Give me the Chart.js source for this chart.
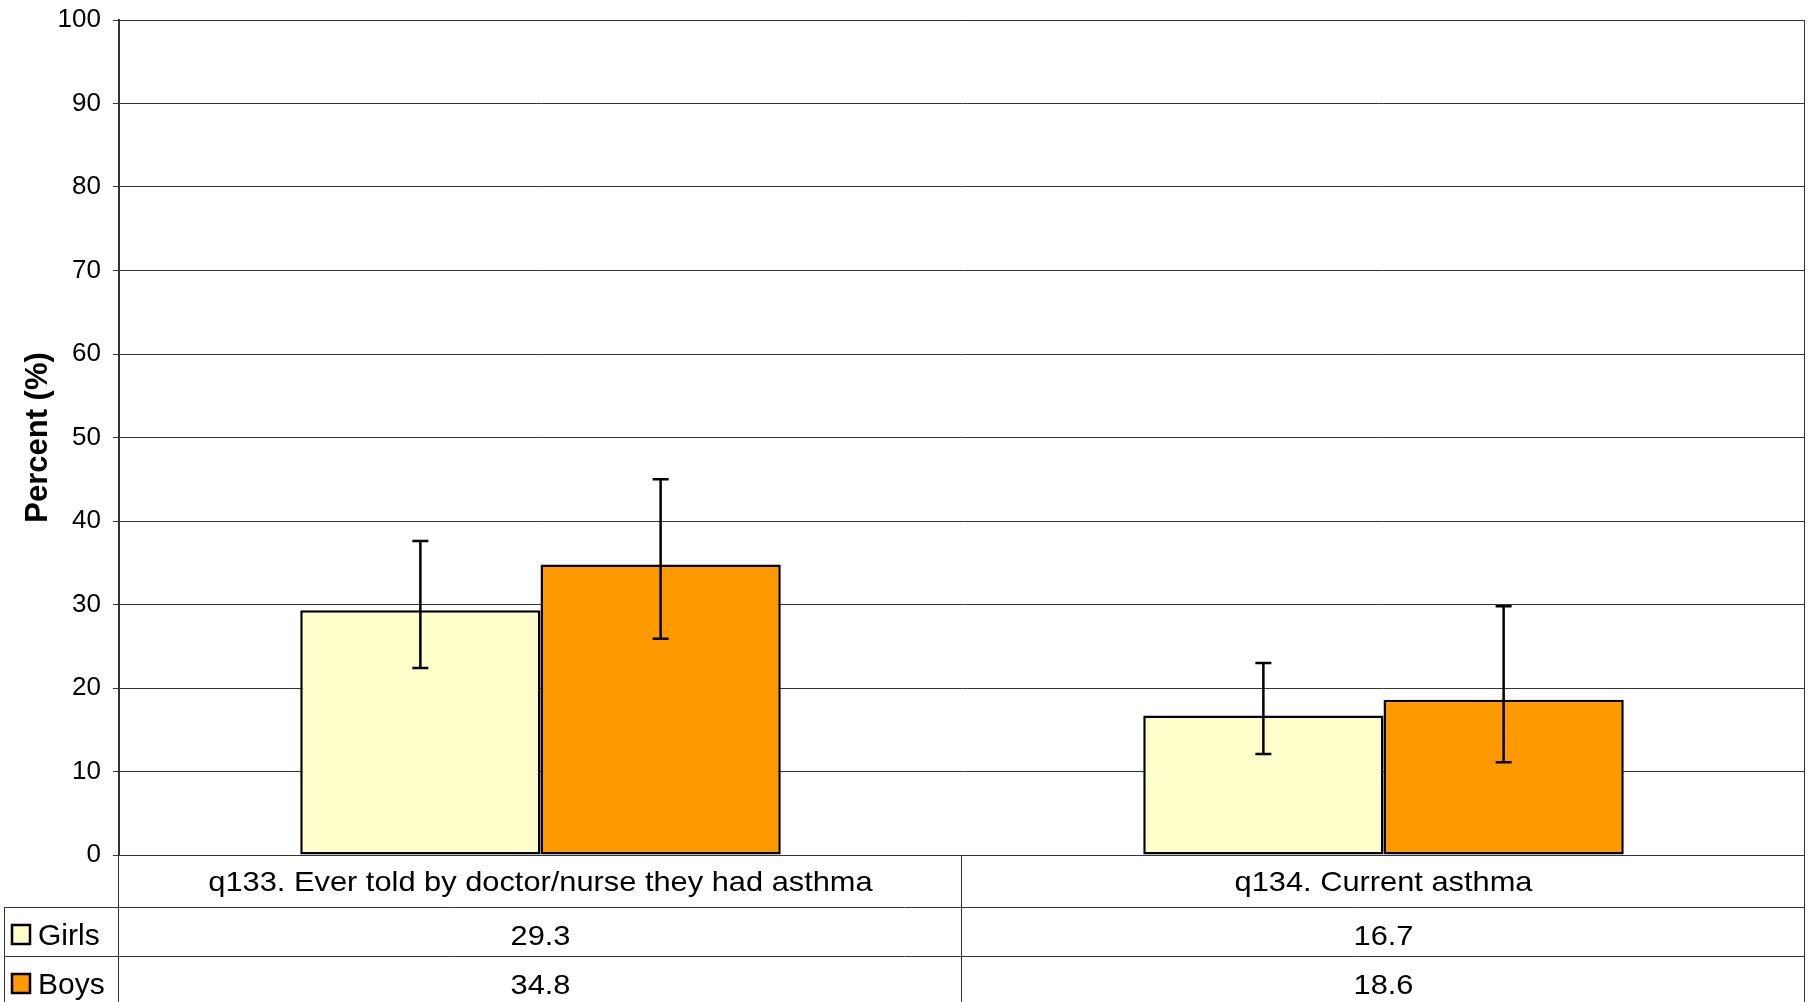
<!DOCTYPE html>
<html>
<head>
<meta charset="utf-8">
<title>Asthma by sex</title>
<script src="https://cdn.jsdelivr.net/npm/chart.js@4/dist/chart.umd.min.js"></script>
<style>
  html, body { margin: 0; padding: 0; background: #fff; }
  canvas { display: block; }
</style>
</head>
<body>
<canvas id="chart" width="1811" height="1002"></canvas>
<script>
const categories = ['q133. Ever told by doctor/nurse they had asthma', 'q134. Current asthma'];
const seriesNames = ['Girls', 'Boys'];
const girls = [29.3, 16.7];
const boys = [34.8, 18.6];
const girlsLow = [22.4, 12.1];
const girlsHigh = [37.6, 23.0];
const boysLow = [25.9, 11.1];
const boysHigh = [45.0, 29.8];
const yMin = 0;
const yMax = 100;
const yStep = 10;

const FONT = '"Liberation Sans", Arial, sans-serif';
const colors = ['#FFFFCC', '#FF9900'];
const lineColor = '#333333';

// error bars drawn from the low/high arrays through the y scale
const errorBars = {
  id: 'errorBars',
  afterDatasetsDraw(chart) {
    const ctx = chart.ctx;
    const y = chart.scales.y;
    const lows = [girlsLow, boysLow];
    const highs = [girlsHigh, boysHigh];
    ctx.save();
    ctx.strokeStyle = '#000';
    ctx.lineWidth = 2.5;
    chart.data.datasets.forEach((ds, i) => {
      const meta = chart.getDatasetMeta(i);
      meta.data.forEach((bar, j) => {
        const top = y.getPixelForValue(highs[i][j]);
        const bottom = y.getPixelForValue(lows[i][j]);
        ctx.beginPath();
        ctx.moveTo(bar.x, top);
        ctx.lineTo(bar.x, bottom);
        ctx.moveTo(bar.x - 8, top);
        ctx.lineTo(bar.x + 8, top);
        ctx.moveTo(bar.x - 8, bottom);
        ctx.lineTo(bar.x + 8, bottom);
        ctx.stroke();
      });
    });
    ctx.restore();
  }
};

// the table text in the original is a little wider than plain Arial
function wideText(ctx, text, x, y) {
  ctx.save();
  ctx.translate(x, y);
  ctx.scale(1.1, 1);
  ctx.fillText(text, 0, 0);
  ctx.restore();
}

// plot border + data table under the x axis
const dataTable = {
  id: 'dataTable',
  afterDraw(chart) {
    const ctx = chart.ctx;
    const area = chart.chartArea;
    const x = chart.scales.x;
    const n = categories.length;
    const colW = (area.right - area.left) / n;
    const rows = [area.bottom, area.bottom + 52, area.bottom + 101, area.bottom + 150];
    const series = [girls, boys];

    ctx.save();
    ctx.strokeStyle = lineColor;
    ctx.lineWidth = 1;
    ctx.beginPath();
    // right + top border of plot
    ctx.moveTo(area.left, area.top + 0.5);
    ctx.lineTo(area.right - 0.5, area.top + 0.5);
    ctx.lineTo(area.right - 0.5, area.bottom);
    // table horizontal lines
    ctx.moveTo(area.left, rows[0] + 0.5);
    ctx.lineTo(area.right, rows[0] + 0.5);
    for (let r = 1; r < 3; r++) {
      ctx.moveTo(4, rows[r] + 0.5);
      ctx.lineTo(area.right, rows[r] + 0.5);
    }
    // verticals
    for (let i = 0; i <= n; i++) {
      const vx = Math.round(area.left + colW * i) - 0.5;
      ctx.moveTo(vx, rows[0]);
      ctx.lineTo(vx, rows[3]);
    }
    ctx.moveTo(4.5, rows[1]);
    ctx.lineTo(4.5, rows[3]);
    ctx.stroke();

    ctx.fillStyle = '#000';
    ctx.font = '28px ' + FONT;
    ctx.textAlign = 'center';
    ctx.textBaseline = 'alphabetic';
    categories.forEach((c, i) => {
      const cx = x.getPixelForValue(i);
      wideText(ctx, c, cx, rows[0] + 36);
      series.forEach((s, k) => {
        wideText(ctx, s[i].toFixed(1), cx, rows[k + 1] + 38);
      });
    });

    // legend keys in the row headers
    ctx.textAlign = 'left';
    ctx.font = '30px ' + FONT;
    seriesNames.forEach((name, k) => {
      const top = rows[k + 1] + 18;
      ctx.fillStyle = colors[k];
      ctx.fillRect(12, top, 18, 19);
      ctx.strokeStyle = '#000';
      ctx.lineWidth = 2.5;
      ctx.strokeRect(12, top, 18, 19);
      ctx.fillStyle = '#000';
      ctx.fillText(name, 38, rows[k + 1] + 38);
    });
    ctx.restore();
  }
};

new Chart(document.getElementById('chart'), {
  type: 'bar',
  data: {
    labels: categories,
    datasets: [
      {
        label: seriesNames[0],
        data: girls,
        backgroundColor: colors[0],
        borderColor: '#000',
        borderWidth: 2.5,
        borderSkipped: false
      },
      {
        label: seriesNames[1],
        data: boys,
        backgroundColor: colors[1],
        borderColor: '#000',
        borderWidth: 2.5,
        borderSkipped: false
      }
    ]
  },
  options: {
    responsive: false,
    animation: false,
    layout: { padding: { top: 20, right: 6, bottom: 147, left: 0 } },
    datasets: { bar: { categoryPercentage: 0.57, barPercentage: 1 } },
    plugins: {
      legend: { display: false },
      title: { display: false },
      tooltip: { enabled: false }
    },
    scales: {
      x: { display: false },
      y: {
        min: yMin,
        max: yMax,
        ticks: {
          stepSize: yStep,
          color: '#000',
          padding: 12,
          font: { family: FONT, size: 26 }
        },
        grid: { color: lineColor, lineWidth: 1, tickLength: 6 },
        border: { color: lineColor, width: 2 },
        title: {
          display: true,
          text: 'Percent (%)',
          color: '#000',
          font: { family: FONT, size: 31, weight: 'bold' },
          padding: { top: 20, bottom: 0 }
        },
        afterFit(scale) {
          scale.width = 119;
          scale.paddingTop = 0;
          scale.paddingBottom = 0;
        }
      }
    }
  },
  plugins: [errorBars, dataTable]
});
</script>
</body>
</html>
